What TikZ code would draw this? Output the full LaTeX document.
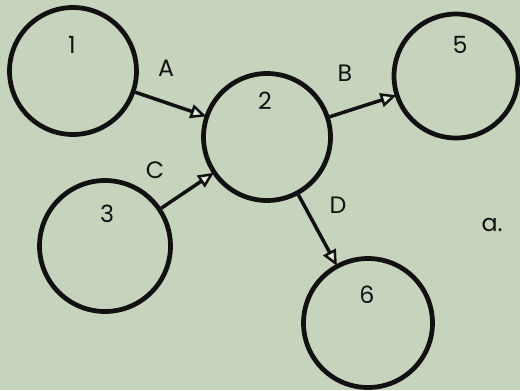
\documentclass[tikz,border=0pt]{standalone}
\usepackage{fontspec}
\setmainfont{Poppins}
\usepackage{xcolor}
\usepackage{tikz}
\usetikzlibrary{arrows.meta}
\definecolor{cPaper}{HTML}{C6D4BE}
\definecolor{cInk}{HTML}{111111}
\definecolor{cTip}{HTML}{E4ECDF}
\tikzset{
  stnode/.style={circle,draw=cInk,line width=2.7pt,minimum size=2.54cm,inner sep=0pt},
  stnum/.style={font=\fontsize{13.5}{15}\selectfont,text=cInk,inner sep=1pt},
  stlab/.style={font=\fontsize{13.5}{15}\selectfont,text=cInk,inner sep=1pt},
  stlink/.style={-{Triangle[length=9pt,width=8pt,fill=cTip,line width=1.4pt]},
      line width=2pt,draw=cInk,shorten >=-1pt},
}
\begin{document}
\begin{tikzpicture}[x=0.02cm,y=-0.02cm]
  \fill[cPaper] (0,0) rectangle (520,390);
  \useasboundingbox (0,0) rectangle (520,390);

  \node[stnode] (n1) at (73,71) {};
  \node[stnode] (n2) at (267,137) {};
  \node[stnode,minimum size=2.48cm] (n5) at (456,76) {};
  \node[stnode,minimum size=2.62cm] (n3) at (105,246) {};
  \node[stnode,minimum size=2.58cm] (n6) at (368,323) {};

  \node[stnum] (t1) at (72,45) {1};
  \node[stnum] (t2) at (265,101) {2};
  \node[stnum] (t5) at (460,45) {5};
  \node[stnum] (t3) at (107,214) {3};
  \node[stnum] (t6) at (367,295) {6};

  \draw[stlink] (n1) -- (n2);
  \draw[stlink] (n2) -- (n5);
  \draw[stlink] (n3) -- (n2);
  \draw[stlink] (n2) -- (n6);

  \node[stlab] (la) at (166,68) {A};
  \node[stlab] (lb) at (345,73) {B};
  \node[stlab] (lc) at (155,170) {C};
  \node[stlab] (ld) at (338,205) {D};
  \node[stlab] (tag) at (492,225) {a.};
\end{tikzpicture}
\end{document}
